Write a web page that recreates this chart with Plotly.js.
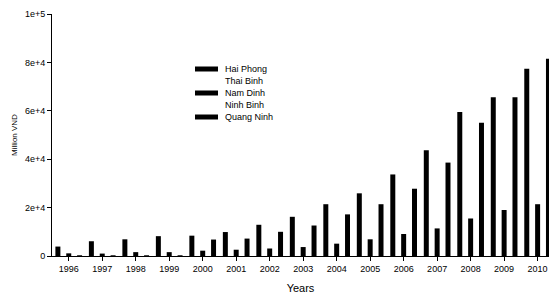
<!DOCTYPE html>
<html>
<head>
<meta charset="utf-8">
<script src="https://cdn.plot.ly/plotly-3.0.1.min.js"></script>
<style>html,body{margin:0;padding:0;background:#fff;}#chart{width:549px;height:294px;}</style>
</head>
<body>
<div id="chart"></div>
<script>
const years = ['1996','1997','1998','1999','2000','2001','2002','2003','2004','2005','2006','2007','2008','2009','2010'];
const seriesNames = ['Hai Phong', 'Thai Binh', 'Nam Dinh', 'Ninh Binh', 'Quang Ninh'];
const seriesColors = ['#000', '#fff', '#000', '#fff', '#000'];
const haiPhong   = [3900, 6100, 6900, 8200, 8400, 9900, 12900, 16200, 21400, 25900, 33700, 43700, 59500, 65600, 77400];
const thaiBinh   = [0, 0, 0, 0, 0, 0, 0, 0, 0, 0, 0, 0, 0, 0, 0];
const namDinh    = [1100, 1000, 1600, 1600, 2200, 2600, 3100, 3700, 5100, 6900, 9100, 11400, 15500, 19000, 21400];
const ninhBinh   = [0, 0, 0, 0, 0, 0, 0, 0, 0, 0, 0, 0, 0, 0, 0];
const quangNinh  = [300, 300, 300, 300, 6800, 7200, 10000, 12600, 17200, 21400, 27800, 38600, 55100, 65600, 81500];
const yTickVals  = [0, 20000, 40000, 60000, 80000, 100000];
const yTickText  = ['0', '2e+4', '4e+4', '6e+4', '8e+4', '1e+5'];

const seriesValues = [haiPhong, thaiBinh, namDinh, ninhBinh, quangNinh];
const font = {family: 'Liberation Sans, Arial, sans-serif', color: '#000'};
const data = seriesNames.map((n, i) => ({
  type: 'bar', name: n, x: years, y: seriesValues[i],
  marker: {color: seriesColors[i], line: {width: 0}}, hoverinfo: 'none', showlegend: false
}));

// hand-drawn legend (wide swatches, tight spacing) in paper coordinates
const plotL = 52, plotW = 497, plotT = 14, plotH = 242;
const px2x = p => (p - plotL) / plotW;
const py2y = p => (plotT + plotH - p) / plotH;
const legTop = 69, legStep = 12;
const shapes = [], annotations = [];
seriesNames.forEach((n, i) => {
  const cy = legTop + i * legStep;
  if (seriesColors[i] !== '#fff') {
    shapes.push({type: 'rect', xref: 'paper', yref: 'paper',
      x0: px2x(195), x1: px2x(218), y0: py2y(cy + 2.5), y1: py2y(cy - 2.5),
      fillcolor: seriesColors[i], line: {width: 0}});
  }
  annotations.push({xref: 'paper', yref: 'paper', x: px2x(222.5), y: py2y(cy),
    xanchor: 'left', yanchor: 'middle', showarrow: false, text: n,
    font: Object.assign({size: 9}, font)});
});

const layout = {
  width: 549, height: 294,
  margin: {l: 52, r: 0, t: 14, b: 38, pad: 0},
  paper_bgcolor: '#fff', plot_bgcolor: '#fff',
  font: Object.assign({size: 9}, font),
  barmode: 'group', bargap: 0.19, bargroupgap: 0.08,
  showlegend: false,
  shapes: shapes, annotations: annotations,
  xaxis: {type: 'category', range: [-0.5, 14.34], showgrid: false, zeroline: false,
          showline: true, linecolor: '#000', linewidth: 1,
          ticks: 'outside', ticklen: 4, tickcolor: '#000',
          tickfont: Object.assign({size: 9}, font),
          title: {text: 'Years', font: Object.assign({size: 11}, font), standoff: 13}},
  yaxis: {range: [0, 100000], showgrid: false, zeroline: false,
          showline: true, linecolor: '#000', linewidth: 1,
          ticks: 'outside', ticklen: 4, tickcolor: '#000',
          tickvals: yTickVals, ticktext: yTickText,
          tickfont: Object.assign({size: 9}, font),
          title: {text: 'Million VND', font: Object.assign({size: 8}, font), standoff: 6}}
};
Plotly.newPlot('chart', data, layout, {staticPlot: true, displayModeBar: false});
</script>
</body>
</html>
